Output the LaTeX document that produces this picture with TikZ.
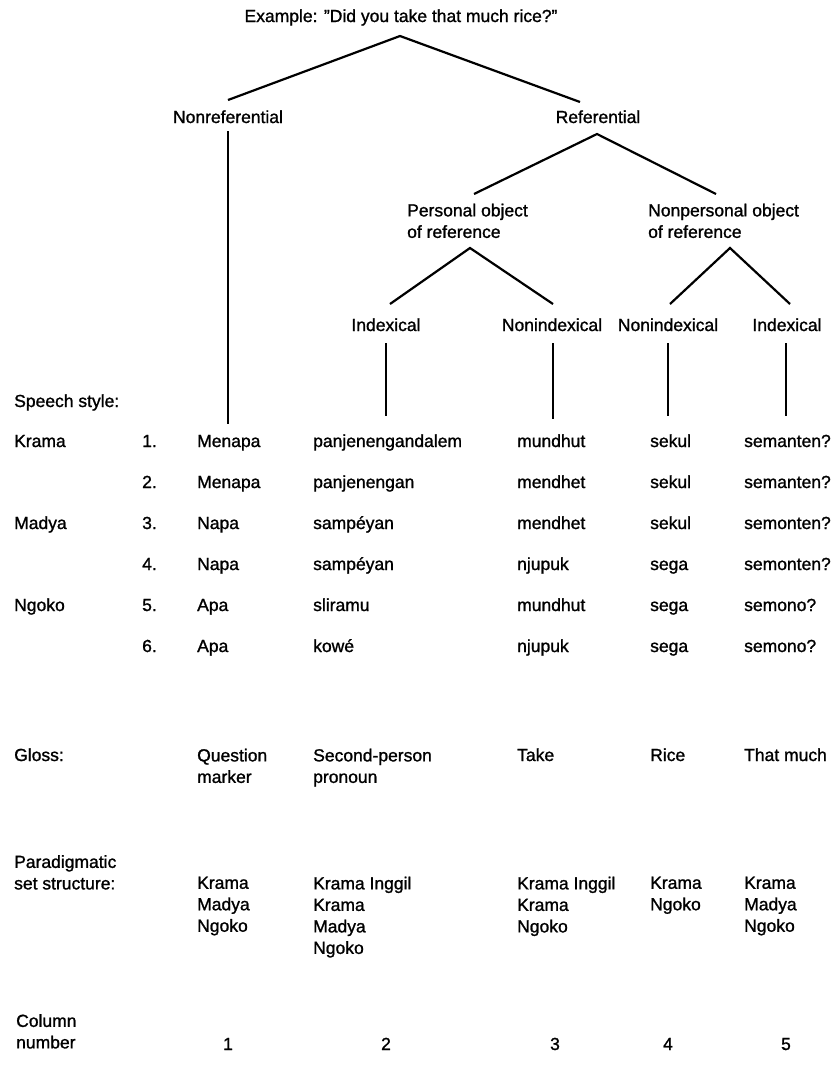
\documentclass[tikz,border=0pt]{standalone}
\usepackage{fontspec}
\setmainfont{Liberation Sans}
\newfontfamily\heavysans{Liberation Sans}[FakeBold=1.2]
\begin{document}
\begin{tikzpicture}[x=1pt,y=-1pt,
  txt/.style={inner sep=0pt, font=\heavysans\fontsize{17.5}{21.5}\selectfont},
  lbl/.style={txt, anchor=base west},
  lblc/.style={txt, anchor=base},
  ml/.style={txt, anchor=north west, align=left},
  br/.style={line width=2.2pt, line cap=butt}]
\useasboundingbox (0,0) rectangle (835,1072);
% ---- tree ----
\node[lblc] (title) at (401,22) {Example: ”Did you take that much rice?”};
\node[lblc] (nonref) at (228,123) {Nonreferential};
\node[lblc] (ref) at (598,123) {Referential};
\node[ml] (pers) at (407,203.5) {Personal object\\of reference};
\node[ml] (npers) at (648,203.5) {Nonpersonal object\\of reference};
\node[lblc] (ix1) at (386,331) {Indexical};
\node[lblc] (nx1) at (552,331) {Nonindexical};
\node[lblc] (nx2) at (668,331) {Nonindexical};
\node[lblc] (ix2) at (787,331) {Indexical};
\coordinate (top) at (400,36);
\coordinate (fNR) at (228,100);
\coordinate (fR) at (580,102);
\coordinate (rA) at (597,134);
\coordinate (rL) at (474,194);
\coordinate (rR) at (716,194);
\coordinate (pA) at (470,248);
\coordinate (pL) at (390,304);
\coordinate (pR) at (553,304);
\coordinate (nA) at (730,248);
\coordinate (nL) at (670,304);
\coordinate (nR) at (790,304);
\draw[br] (fNR) -- (top) -- (fR);
\draw[br] (rL) -- (rA) -- (rR);
\draw[br] (pL) -- (pA) -- (pR);
\draw[br] (nL) -- (nA) -- (nR);
\coordinate (v0a) at (228,131); \coordinate (v0b) at (228,424);
\coordinate (v1a) at (386,343); \coordinate (v1b) at (386,416);
\coordinate (v2a) at (553,343); \coordinate (v2b) at (553,419);
\coordinate (v3a) at (668,343); \coordinate (v3b) at (668,416);
\coordinate (v4a) at (786,343); \coordinate (v4b) at (786,416);
\draw[br] (v0a) -- (v0b);
\draw[br] (v1a) -- (v1b);
\draw[br] (v2a) -- (v2b);
\draw[br] (v3a) -- (v3b);
\draw[br] (v4a) -- (v4b);
% ---- speech styles ----
\node[lbl] (ss) at (14,407) {Speech style:};
\node[lbl] (krama) at (14,447) {Krama};
\node[lbl] (madya) at (14,529) {Madya};
\node[lbl] (ngoko) at (14,611) {Ngoko};
\foreach \n/\y/\a/\b/\c/\d/\e in {
  1/447/Menapa/panjenengandalem/mundhut/sekul/semanten?,
  2/488/Menapa/panjenengan/mendhet/sekul/semanten?,
  3/529/Napa/samp\'eyan/mendhet/sekul/semonten?,
  4/570/Napa/samp\'eyan/njupuk/sega/semonten?,
  5/611/Apa/sliramu/mundhut/sega/semono?,
  6/652/Apa/kow\'e/njupuk/sega/semono?}{
  \node[lbl] (n\n) at (142,\y) {\n.};
  \node[lbl] (a\n) at (197,\y) {\a};
  \node[lbl] (b\n) at (313,\y) {\b};
  \node[lbl] (c\n) at (517,\y) {\c};
  \node[lbl] (d\n) at (650,\y) {\d};
  \node[lbl] (e\n) at (744,\y) {\e};
}
% ---- gloss ----
\node[lbl] (gloss) at (14,761) {Gloss:};
\node[ml] (g1) at (197,748.5) {Question\\marker};
\node[ml] (g2) at (313,748.5) {Second-person\\pronoun};
\node[lbl] (g3) at (517,761) {Take};
\node[lbl] (g4) at (650,761) {Rice};
\node[lbl] (g5) at (744,761) {That much};
% ---- paradigmatic ----
\node[ml] (par) at (14,855) {Paradigmatic\\set structure:};
\node[ml] (p1) at (197,876.5) {Krama\\Madya\\Ngoko};
\node[ml] (p2) at (313,876.5) {Krama Inggil\\Krama\\Madya\\Ngoko};
\node[ml] (p3) at (517,876.5) {Krama Inggil\\Krama\\Ngoko};
\node[ml] (p4) at (650,876.5) {Krama\\Ngoko};
\node[ml] (p5) at (744,876.5) {Krama\\Madya\\Ngoko};
% ---- column numbers ----
\node[ml] (col) at (16,1014) {Column\\number};
\node[lblc] (k1) at (228,1050) {1};
\node[lblc] (k2) at (386,1050) {2};
\node[lblc] (k3) at (555,1050) {3};
\node[lblc] (k4) at (668,1050) {4};
\node[lblc] (k5) at (786,1050) {5};
\end{tikzpicture}
\end{document}
